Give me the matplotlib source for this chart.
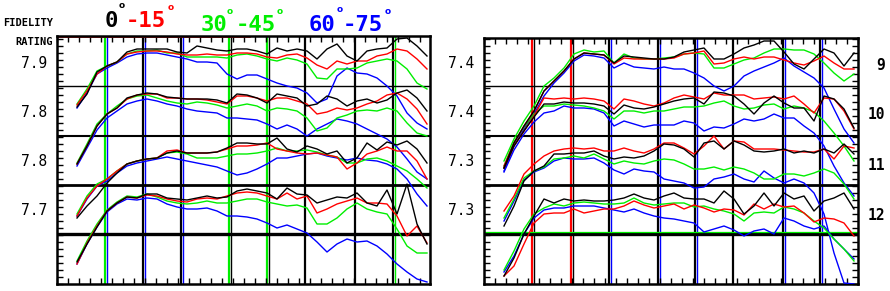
import numpy as np
import matplotlib.pyplot as plt
from matplotlib.ticker import MultipleLocator

W, H = 890, 291

t = np.arange(20, 371, 10)

# left panel, rows 1..4 from top (values in plot units, 1 unit ~ 1 px)
L1_k = [177,190,212,218,222,232,235,235,235,235,232,231, 238,236,234,233,235,235,233,230,236,233,235,233, 225,235,240,228,223,233,235,236,245,246,238,228]
L1_r = [179,193,210,218,222,230,232,233,233,232,230,229, 229,230,229,229,231,231,230,227,226,229,230,226, 219,215,223,220,223,223,228,230,235,233,225,215]
L1_g = [180,195,213,218,222,230,233,233,234,231,231,227, 227,227,227,226,229,230,228,225,223,226,224,220, 206,205,215,215,216,221,223,225,223,215,201,195]
L1_b = [176,191,210,216,221,227,230,231,231,229,227,225, 222,222,221,210,205,209,209,205,201,198,196,191, 181,185,208,216,211,210,206,198,188,171,161,155]

L2_k = [120,138,158,170,176,186,189,191,190,187,186,185, 185,185,184,181,190,189,186,181,190,188,186,178, 180,188,185,178,183,185,181,184,191,194,186,173]
L2_r = [120,138,158,170,176,185,189,190,190,186,186,185, 185,184,182,180,188,188,186,183,186,186,183,180, 170,172,176,174,176,180,183,189,191,185,175,160]
L2_g = [121,140,160,170,178,185,188,189,186,183,181,180, 182,181,179,176,178,180,178,173,176,175,173,166, 153,156,166,169,173,174,173,176,173,161,151,148]
L2_b = [118,136,154,166,173,180,183,185,183,180,178,175, 173,172,171,166,166,165,164,160,155,159,155,148, 155,160,165,163,160,155,150,145,137,125,112,105]

L3_k = [66,78,88,101,111,120,123,125,126,131,133,131, 131,131,132,136,141,141,140,140,146,135,132,138, 135,130,133,121,126,141,134,142,139,143,135,121]
L3_r = [68,86,98,105,113,120,123,125,126,133,134,131, 131,131,132,135,138,138,139,141,135,133,131,130, 131,129,127,115,121,130,133,137,133,133,123,105]
L3_g = [70,88,100,105,113,120,123,125,126,131,132,130, 126,126,126,128,130,130,131,133,136,133,133,134, 132,129,127,121,121,125,126,123,118,113,105,96]
L3_b = [68,85,98,103,111,118,121,123,125,127,125,123, 121,119,117,113,109,111,115,120,126,126,128,130, 131,128,126,124,126,124,123,120,115,105,90,78]

L4_k = [22,40,57,73,81,87,86,90,90,86,85,84, 86,88,86,87,93,95,93,91,85,96,90,89, 81,84,87,86,91,81,78,94,70,100,60,40]
L4_r = [20,41,58,73,81,87,86,89,88,85,83,82, 85,86,85,88,91,92,91,88,85,91,85,88, 71,75,80,83,86,81,81,80,68,48,58,41]
L4_g = [23,43,60,74,82,88,87,90,87,83,81,80, 81,83,81,81,83,85,85,82,80,78,79,76, 60,60,66,75,81,75,72,70,55,38,31,31]
L4_b = [20,40,57,72,80,85,84,86,85,80,77,75, 75,76,73,68,68,67,65,61,56,59,55,51, 42,32,40,45,42,43,38,30,20,12,5,2]

# right panel, rows 9..12
R1_k = [116,141,158,173,193,203,213,225,231,230,229,221, 228,227,226,225,225,227,232,234,236,225,225,230, 236,239,243,243,232,220,215,225,235,231,218,231]
R1_r = [118,141,158,173,193,203,213,225,231,230,229,220, 226,225,225,225,225,226,230,231,233,220,221,225, 227,225,227,227,224,221,219,223,228,221,215,215]
R1_g = [123,145,163,178,198,206,216,230,234,232,233,221, 230,226,225,225,226,227,230,231,230,216,216,220, 224,226,231,235,235,234,234,230,221,211,203,210]
R1_b = [113,138,155,170,188,201,211,223,229,228,226,216, 221,217,216,215,217,215,215,211,206,198,193,198, 208,213,217,221,226,218,212,206,196,175,155,141]

R2_k = [116,138,153,167,180,180,182,181,181,180,178,170, 179,176,175,177,180,183,185,186,180,192,191,188, 180,170,181,188,181,176,176,163,188,185,175,156]
R2_r = [116,138,153,168,186,185,186,185,186,185,183,175, 185,183,180,178,181,186,189,187,185,191,189,189, 189,185,186,187,185,188,180,171,186,185,173,155]
R2_g = [118,142,157,170,178,178,180,179,178,176,173,165, 173,173,171,173,173,175,177,177,178,181,183,178, 175,176,179,180,175,178,176,172,163,151,138,123]
R2_b = [112,134,150,162,171,173,178,176,176,175,171,158, 163,160,157,159,159,159,163,161,153,157,156,160, 165,163,165,170,166,166,158,151,138,118,101,88]

R3_k = [58,78,103,113,118,130,130,131,131,133,128,125, 127,126,128,133,140,139,135,127,141,143,135,143, 139,133,132,133,135,131,133,131,135,131,140,130]
R3_r = [73,88,110,120,128,133,135,136,135,136,133,133, 136,133,131,135,141,141,136,130,138,148,135,143, 142,135,135,135,134,133,132,132,135,125,138,136]
R3_g = [66,85,106,113,117,125,126,128,126,130,125,120, 123,121,120,123,125,124,120,115,115,117,114,117, 115,111,105,105,110,110,108,111,115,111,100,85]
R3_b = [63,83,104,112,116,123,126,125,125,126,121,114, 110,115,113,112,105,103,101,96,97,105,107,110, 105,102,113,106,101,105,101,91,70,31,1,0]

R4_k = [8,26,50,68,85,81,85,83,84,83,83,84, 86,90,86,84,88,91,86,85,85,81,93,85, 70,78,91,78,91,85,88,73,83,86,91,75]
R4_r = [8,18,40,61,70,71,71,75,71,73,75,75, 78,83,79,76,78,80,75,79,76,72,75,74, 69,80,75,80,77,78,71,62,66,65,61,48]
R4_g = [14,33,55,70,76,80,78,81,82,81,80,80, 81,86,81,79,80,81,81,77,78,75,73,70, 63,71,72,71,77,75,71,63,56,45,35,23]
R4_b = [12,28,50,66,74,76,76,78,78,78,76,74, 72,75,71,68,66,65,63,61,52,55,58,54, 48,53,55,50,66,63,58,55,58,45,35,25]

left_ratings = ['7.9', '7.8', '7.8', '7.7']
right_ratings = ['7.4', '7.4', '7.3', '7.3']
right_rows = ['9', '10', '11', '12']

BLACK, RED, GREEN, BLUE = '#000000', '#ff0000', '#00ee00', '#0000ff'


def fx(x):
    return x / W


def fy(y):
    return 1 - y / H


fig = plt.figure(figsize=(W / 100, H / 100), dpi=100)
axL = fig.add_axes([fx(57), fy(284), (430 - 57) / W, (284 - 36) / H])
axR = fig.add_axes([fx(484), fy(284), (858 - 484) / W, (284 - 38) / H])

left_rows = [(L1_k, L1_r, L1_g, L1_b), (L2_k, L2_r, L2_g, L2_b),
             (L3_k, L3_r, L3_g, L3_b), (L4_k, L4_r, L4_g, L4_b)]
right_rows_data = [(R1_k, R1_r, R1_g, R1_b), (R2_k, R2_r, R2_g, R2_b),
                   (R3_k, R3_r, R3_g, R3_b), (R4_k, R4_r, R4_g, R4_b)]

# grid lines: (position, main colour, side colour)
left_vlines = [(48, GREEN, BLUE), (86, BLACK, BLUE), (124, BLACK, BLUE), (172, GREEN, BLACK),
               (210, GREEN, BLACK), (248, BLACK, None), (298, BLACK, None), (336, BLACK, GREEN)]
right_vlines = [(48, RED, BLACK), (87, RED, BLACK), (125, BLACK, BLUE), (174, BLACK, BLUE),
                (211, BLACK, BLUE), (249, BLACK, None), (299, BLACK, BLUE), (336, BLACK, BLUE)]
hlines = [(198, 1.0), (148, 1.5), (99, 2.0), (50, 2.4)]

for ax, rows, vl, xmax, ymax in [(axL, left_rows, left_vlines, 373, 248),
                                 (axR, right_rows_data, right_vlines, 374, 246)]:
    ax.set_xlim(0, xmax)
    ax.set_ylim(0, ymax)
    for x, c1, c2 in vl:
        ax.axvline(x, color=c1, lw=1.6, zorder=1)
        if c2:
            ax.axvline(x + 1.6, color=c2, lw=1.0, zorder=1)
    for y, lw in hlines:
        ax.axhline(y, color=BLACK, lw=lw, zorder=1)
    for k, r, g, b in rows:
        ax.plot(t, b, color=BLUE, lw=1.0, zorder=3)
        ax.plot(t, g, color=GREEN, lw=1.0, zorder=4)
        ax.plot(t, r, color=RED, lw=1.0, zorder=5)
        ax.plot(t, k, color=BLACK, lw=1.0, zorder=6)
    for s in ax.spines.values():
        s.set_linewidth(1.8)
    ax.xaxis.set_minor_locator(MultipleLocator(11))
    ax.yaxis.set_minor_locator(MultipleLocator(7))
    ax.set_xticks([])
    ax.tick_params(which='minor', direction='in', length=4, width=1,
                   top=True, bottom=True, left=True, right=(ax is axR))
    ax.tick_params(axis='y', which='major', length=0, pad=7)

# extra colour on the frame and grid as in the original
axR.axhline(50 + 1.8, color=GREEN, lw=0.9, zorder=1)
axL.plot([0, 193], [247, 247], color=RED, lw=1.2, zorder=2)

lab_font = dict(family='DejaVu Sans Mono', size=10.5)
axL.set_yticks([222, 173, 124, 75], left_ratings, **lab_font)
axR.set_yticks([222, 173, 124, 75], right_ratings, **lab_font)

for lab, y in zip(right_rows, [66, 115, 165, 215]):
    fig.text(fx(885), fy(y), lab, ha='right', va='center',
             family='DejaVu Sans Mono', fontsize=10.5, fontweight='bold')

fig.text(fx(3), fy(23), 'FIDELITY', ha='left', va='center',
         family='DejaVu Sans Mono', fontsize=7.5, fontweight='bold')
fig.text(fx(53), fy(42), 'RATING', ha='right', va='center',
         family='DejaVu Sans Mono', fontsize=7.5, fontweight='bold')

# title pieces: text, colour, x centre, y centre
title = [('0', BLACK, 111, 21), ('-15', RED, 146, 21),
         ('30', GREEN, 214, 25), ('-45', GREEN, 256, 25),
         ('60', BLUE, 322, 25), ('-75', BLUE, 363, 25)]
for s, c, x, y in title:
    fig.text(fx(x), fy(y), s, color=c, ha='center', va='center',
             family='DejaVu Sans Mono', fontsize=16, fontweight='bold')
degrees = [(BLACK, 122, 6), (RED, 171, 7), (GREEN, 230, 11), (GREEN, 280, 12),
           (BLUE, 340, 10), (BLUE, 388, 12)]
for c, x, y in degrees:
    fig.text(fx(x), fy(y), 'o', color=c, ha='center', va='center',
             family='DejaVu Sans', fontsize=6.5, fontweight='bold')

fig.savefig('out.png', dpi=100)
